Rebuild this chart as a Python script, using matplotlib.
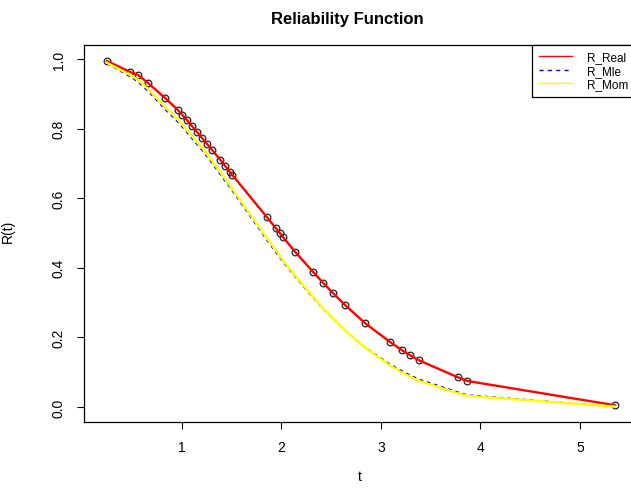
import numpy as np
import matplotlib
matplotlib.use("Agg")
import matplotlib.pyplot as plt

plt.rcParams['font.family'] = ['Liberation Sans', 'DejaVu Sans']

# sample times and reliability estimates
t_obs = [0.246, 0.477, 0.558, 0.658, 0.829, 0.960, 1.000, 1.050, 1.100, 1.151,
         1.201, 1.251, 1.301, 1.382, 1.432, 1.482, 1.502, 1.854, 1.945, 1.985,
         2.015, 2.136, 2.317, 2.417, 2.518, 2.638, 2.839, 3.090, 3.211, 3.291,
         3.382, 3.774, 3.864, 5.352]
r_real = [0.994, 0.963, 0.954, 0.931, 0.888, 0.853, 0.840, 0.824, 0.807, 0.790,
          0.773, 0.756, 0.739, 0.711, 0.693, 0.675, 0.668, 0.545, 0.513, 0.499,
          0.488, 0.446, 0.388, 0.357, 0.327, 0.293, 0.241, 0.187, 0.163, 0.149,
          0.134, 0.085, 0.075, 0.005]
r_mle = [0.987, 0.949, 0.934, 0.907, 0.855, 0.818, 0.805, 0.788, 0.771, 0.754,
         0.737, 0.719, 0.700, 0.669, 0.649, 0.630, 0.622, 0.479, 0.443, 0.428,
         0.416, 0.374, 0.313, 0.282, 0.253, 0.220, 0.172, 0.123, 0.104, 0.092,
         0.080, 0.043, 0.035, 0.001]
r_mom = [0.989, 0.954, 0.940, 0.914, 0.862, 0.825, 0.812, 0.795, 0.778, 0.761,
         0.744, 0.726, 0.707, 0.676, 0.656, 0.636, 0.628, 0.485, 0.449, 0.433,
         0.421, 0.378, 0.316, 0.284, 0.254, 0.220, 0.170, 0.119, 0.099, 0.087,
         0.075, 0.039, 0.032, 0.001]

fig = plt.figure(figsize=(6.31, 4.89), dpi=100)
ax = fig.add_axes([84/631, 66/489, 551/631, 377/489])

ax.plot(t_obs, r_real, 'o', ms=4.8, mfc='none', mec='#222222', mew=0.9, zorder=2)
ax.plot(t_obs, r_real, color='#FF0000', lw=1.7, zorder=3, label='R_Real')
ax.plot(t_obs, r_mle, color='#0000FF', lw=0.9, ls=(0, (3, 3)), zorder=3, label='R_Mle')
ax.plot(t_obs, r_mom, color='#FFFF00', lw=1.7, zorder=4, label='R_Mom')

ax.set_xlim(0.015, 5.553)
ax.set_ylim(-0.0431, 1.0402)
ax.set_xticks([1, 2, 3, 4, 5])
ax.set_yticks([0.0, 0.2, 0.4, 0.6, 0.8, 1.0])
ax.set_yticklabels(['0.0', '0.2', '0.4', '0.6', '0.8', '1.0'], rotation=90, va='center')
ax.tick_params(length=5, width=0.8, labelsize=10, pad=8)
for s in ax.spines.values():
    s.set_linewidth(0.9)

ax.set_xlabel('t', fontsize=10)
ax.xaxis.set_label_coords(0.5, -0.125)
ax.set_ylabel('R(t)', fontsize=10)
ax.yaxis.set_label_coords(-0.125, 0.507)

ax.set_title('Reliability Function', fontsize=12, fontweight='bold', pad=16)
ax.title.set_position((263/551, 1))

leg = ax.legend(loc='upper right', bbox_to_anchor=(1, 1), borderaxespad=0,
                fancybox=False, edgecolor='black', framealpha=1, fontsize=8.5,
                handlelength=2.8, handletextpad=1.3, labelspacing=0.12,
                borderpad=0.55)
leg.get_frame().set_linewidth(0.9)
for h in leg.get_lines():
    h.set_linewidth(1)

fig.savefig('out.png', dpi=100)
